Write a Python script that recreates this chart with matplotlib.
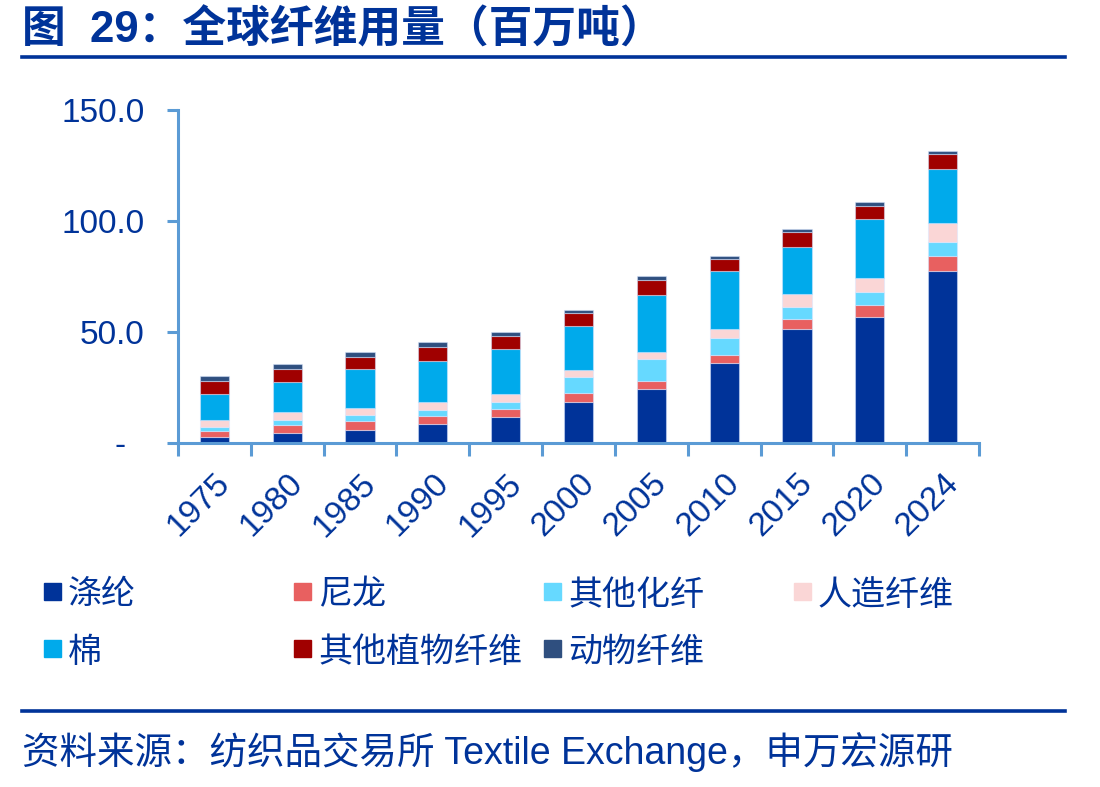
import matplotlib
matplotlib.use("Agg")
import matplotlib.pyplot as plt
from matplotlib.patches import Rectangle
from matplotlib.lines import Line2D
import numpy as np

plt.rcParams['font.family'] = ['Liberation Sans', 'Noto Sans CJK SC', 'DejaVu Sans']

# 数据（百万吨）
anos = ['1975', '1980', '1985', '1990', '1995', '2000', '2005', '2010', '2015', '2020', '2024']
series_names = ['涤纶', '尼龙', '其他化纤', '人造纤维', '棉', '其他植物纤维', '动物纤维']
dilun = [2.8, 4.6, 6.0, 8.6, 11.9, 18.6, 24.5, 36.2, 51.4, 56.8, 77.5]
nilong = [2.7, 3.5, 4.0, 3.7, 3.6, 4.1, 3.6, 3.6, 4.5, 5.4, 6.7]
qita_huaxian = [1.8, 2.4, 2.8, 2.7, 3.1, 7.2, 9.9, 7.6, 5.4, 5.8, 6.3]
renzao = [3.1, 3.5, 3.1, 3.3, 3.3, 2.8, 2.8, 3.8, 6.0, 6.3, 8.6]
mian = [11.5, 13.5, 17.4, 18.8, 20.6, 19.9, 25.9, 26.3, 21.2, 26.5, 24.3]
qita_zhiwu = [6.2, 5.8, 5.6, 6.1, 5.8, 5.8, 6.6, 5.4, 6.7, 6.1, 7.0]
dongwu = [2.1, 2.1, 2.2, 2.2, 1.8, 1.5, 1.8, 1.2, 1.1, 1.8, 1.1]
y_ticks = [0, 50, 100, 150]
y_labels = ['-  ', '50.0', '100.0', '150.0']

cores = ['#003399', '#E86060', '#66D9FF', '#FAD6D6', '#00AAEB', '#A00000', '#2F4F7F']
azul = '#003399'
eixo = '#5B9BD5'

fig = plt.figure(figsize=(11, 7.87), dpi=100)
ax = fig.add_axes([0.1618, 0.4371, 0.7282, 0.4231])

x = np.arange(len(anos))
base = np.zeros(len(anos))
for vals, cor, nome in zip([dilun, nilong, qita_huaxian, renzao, mian, qita_zhiwu, dongwu],
                           cores, series_names):
    ax.bar(x, vals, width=0.4, bottom=base, color=cor, label=nome,
           edgecolor=(0.85, 0.9, 1.0, 0.5), linewidth=0.8)
    base = base + np.array(vals)

ax.set_xlim(-0.5, len(anos) - 0.5)
ax.set_ylim(0, 150)

for lado in ['top', 'right']:
    ax.spines[lado].set_visible(False)
for lado in ['left', 'bottom']:
    ax.spines[lado].set_color(eixo)
    ax.spines[lado].set_linewidth(2.2)

ax.set_yticks(y_ticks)
ax.set_yticklabels(y_labels)
ax.tick_params(axis='y', colors=eixo, length=8, width=2.2, labelcolor=azul,
               labelsize=24, pad=16)

# ticks nas fronteiras das categorias, rótulos no centro
ax.set_xticks(np.arange(-0.5, len(anos), 1.0))
ax.set_xticklabels([])
ax.tick_params(axis='x', which='major', colors=eixo, length=9, width=2.2)
ax.set_xticks(x, minor=True)
ax.set_xticklabels(anos, minor=True, rotation=45, ha='right', va='top',
                   rotation_mode='anchor')
ax.tick_params(axis='x', which='minor', length=0, labelcolor=azul, labelsize=24, pad=18)

# título
fig.text(0.02, 0.962, '图  29：全球纤维用量（百万吨）', fontsize=31.5, fontweight='bold',
         color=azul, va='center', ha='left')
fig.add_artist(Line2D([0.02, 0.968], [0.927, 0.927], color=azul, linewidth=2.6))

# legenda manual em grade 4 colunas
for i, (nome, cor) in enumerate(zip(series_names, cores)):
    col, lin = i % 4, i // 4
    x0 = (44 + 250 * col) / 1100
    y0 = 1 - (600 + 57 * lin) / 787
    fig.add_artist(Rectangle((x0, y0), 17 / 1100, 17 / 787, color=cor,
                             transform=fig.transFigure))
    fig.text(x0 + 24 / 1100, y0 + 4 / 787, nome, fontsize=24.5, color=azul,
             va='center', ha='left')

# fonte
fig.add_artist(Line2D([0.02, 0.968], [1 - 711 / 787, 1 - 711 / 787], color=azul, linewidth=2.6))
fig.text(0.02, 1 - 752 / 787, '资料来源：纺织品交易所 Textile Exchange，申万宏源研',
         fontsize=27, color=azul, va='center', ha='left')

plt.savefig('out.png', dpi=100)
plt.close()
